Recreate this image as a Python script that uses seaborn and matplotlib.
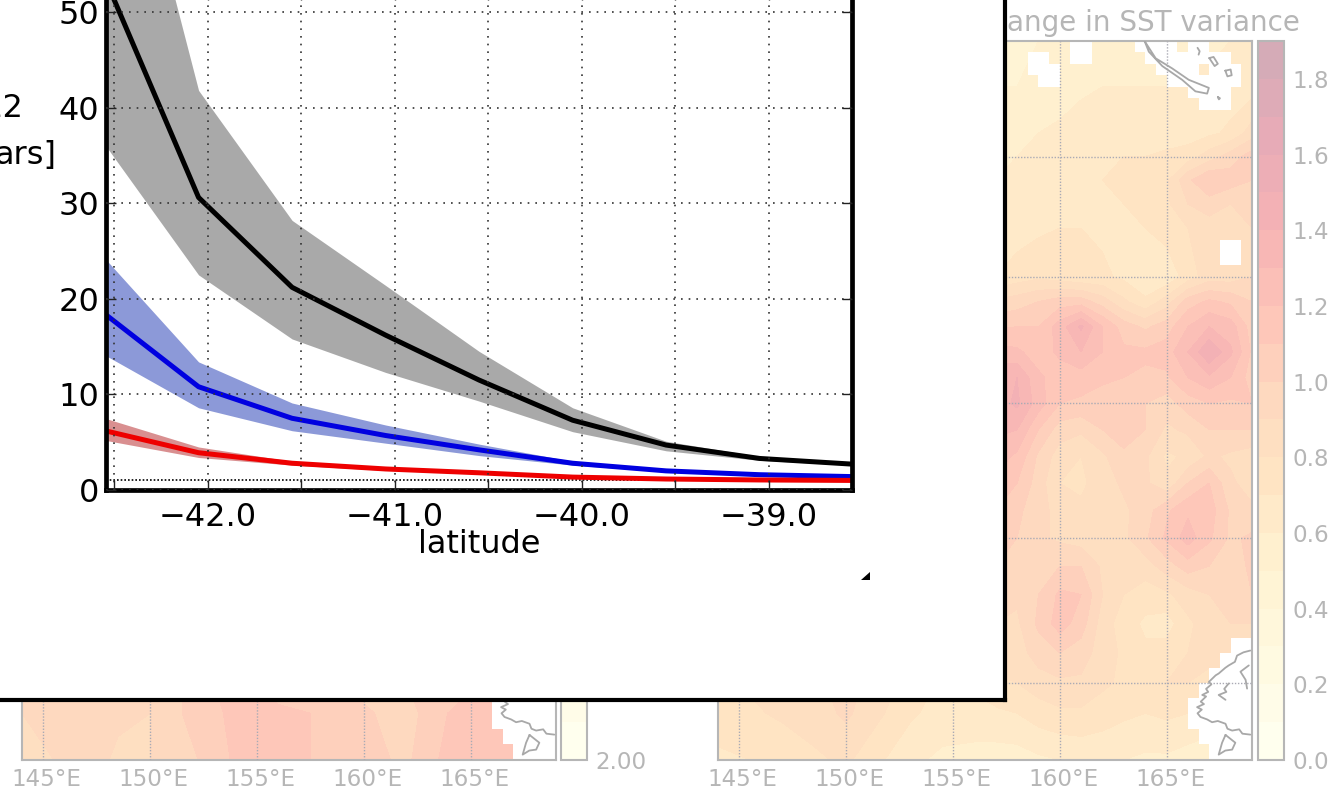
import numpy as np
import pandas as pd
import seaborn as sns
import matplotlib.pyplot as plt
from matplotlib.transforms import ScaledTranslation

W, H = 1342, 791

# inset curves
lat_knots = [-42.55, -42.05, -41.55, -41.05, -40.55, -40.05, -39.55, -39.05, -38.55]
black_mean = [53.5, 30.6, 21.2, 16.2, 11.5, 7.3, 4.7, 3.3, 2.7]
black_low = [36.1, 22.5, 15.8, 12.3, 9.3, 6.1, 4.1, 3.1, 2.6]
black_high = [79.6, 41.8, 28.2, 21.4, 14.5, 8.6, 5.1, 3.5, 2.8]
blue_mean = [18.4, 10.8, 7.5, 5.7, 4.2, 2.8, 2.0, 1.6, 1.4]
blue_low = [14.1, 8.6, 6.2, 4.9, 3.6, 2.6, 1.9, 1.5, 1.3]
blue_high = [24.2, 13.4, 9.1, 6.8, 4.8, 3.0, 2.1, 1.7, 1.5]
red_mean = [6.2, 3.9, 2.8, 2.2, 1.8, 1.35, 1.15, 1.05, 1.0]
red_low = [5.2, 3.4, 2.6, 2.05, 1.7, 1.3, 1.1, 1.0, 0.9]
red_high = [7.5, 4.5, 3.0, 2.3, 1.9, 1.4, 1.2, 1.1, 1.05]

# right map, visible part
field_lons = [157, 158, 159, 160, 161, 162, 163, 164, 165, 166, 167, 168, 169]
field_lats = [-20, -22, -24, -25, -26, -27, -28, -30, -31, -32, -33, -34, -35, -36, -37, -38,
              -39, -40, -41, -42, -43, -44, -45, -46, -47.5]
field = [
    [.45, .45, .50, .52, .55, .60, .58, .55, .58, .58, .58, .60, .60],
    [.50, .50, .52, .55, .58, .60, .60, .60, .60, .62, .62, .65, .65],
    [.55, .58, .60, .62, .65, .68, .68, .65, .65, .65, .68, .72, .85],
    [.58, .60, .62, .65, .68, .70, .70, .70, .72, .75, .85, .95, 1.05],
    [.60, .62, .65, .68, .70, .70, .72, .72, .78, .98, 1.1, 1.05, 1.0],
    [.62, .65, .68, .70, .70, .70, .70, .72, .78, .90, .95, .90, .95],
    [.60, .65, .68, .70, .70, .68, .68, .70, .75, .80, .85, .85, .90],
    [.70, .75, .78, .75, .72, .72, .68, .62, .62, .75, .85, .85, .90],
    [.92, .95, 1.0, 1.05, 1.05, .95, .82, .72, .85, 1.05, 1.12, 1.08, 1.0],
    [1.08, 1.1, 1.1, 1.25, 1.42, 1.2, 1.05, .98, 1.05, 1.2, 1.3, 1.25, 1.05],
    [1.25, 1.22, 1.15, 1.22, 1.3, 1.2, 1.12, 1.12, 1.15, 1.3, 1.5, 1.32, 1.08],
    [1.35, 1.4, 1.22, 1.15, 1.15, 1.12, 1.1, 1.08, 1.08, 1.2, 1.28, 1.2, 1.05],
    [1.35, 1.42, 1.25, 1.1, 1.08, 1.05, 1.02, 1.0, .95, 1.05, 1.1, 1.08, 1.1],
    [1.32, 1.3, 1.1, .95, .92, 1.0, 1.05, 1.0, .88, .92, 1.0, 1.0, 1.0],
    [1.25, 1.18, .98, .85, .80, .88, .98, .92, .78, .82, .92, .88, .85],
    [1.18, 1.1, .95, .80, .78, .85, .92, .92, .82, 1.0, 1.1, .92, .85],
    [1.1, 1.02, .95, .85, .82, .85, .88, .95, 1.08, 1.18, 1.15, .98, .92],
    [1.05, 1.0, .92, .88, .85, .85, .88, .98, 1.12, 1.25, 1.12, .98, 1.02],
    [1.0, .95, .95, 1.0, 1.0, .88, .85, .85, .95, 1.05, 1.0, .95, 1.02],
    [.98, .92, 1.0, 1.12, 1.1, .90, .80, .75, .78, .85, .90, .95, 1.0],
    [.90, .88, 1.02, 1.15, 1.05, .85, .75, .68, .65, .78, .85, .90, .90],
    [.85, .85, .95, 1.0, .95, .85, .78, .72, .75, .80, .82, .85, .85],
    [.78, .80, .85, .88, .88, .82, .78, .75, .80, .80, .78, .78, .80],
    [.68, .70, .75, .78, .78, .75, .72, .70, .72, .70, .68, .68, .70],
    [.55, .55, .58, .60, .62, .62, .60, .58, .58, .55, .52, .52, .55],
]

# bottom strips of both maps
right_lats = [-44, -46, -47.5]
right_lons = [144, 145.5, 147, 148.5, 150, 151.5, 153, 154.5, 156, 157]
right_strip = [
    [.82, .85, .88, .90, .95, .88, .80, .72, .75, .85],
    [.75, .78, .82, .85, .92, .82, .72, .65, .68, .68],
    [.68, .70, .72, .78, .82, .72, .62, .58, .55, .55],
]
left_lats = [-44, -45, -46, -47.5]
left_lons = [144, 145.5, 147, 148.5, 150, 151.5, 153, 154.5, 156, 157.5, 159, 160.5, 162, 163.5,
             165, 166.5, 169]
left_strip = [
    [2.95, 2.98, 2.95, 2.95, 3.0, 2.98, 3.05, 3.1, 3.05, 3.0, 3.0, 2.98, 2.98, 3.02, 3.05, 3.05, 3.05],
    [2.92, 2.95, 2.95, 2.92, 2.95, 3.0, 3.1, 3.12, 3.05, 3.05, 3.0, 2.95, 3.0, 3.02, 3.08, 3.1, 3.1],
    [2.9, 2.92, 3.0, 2.92, 2.9, 3.0, 3.08, 3.15, 3.12, 3.1, 3.02, 3.0, 2.95, 3.08, 3.15, 3.15, 3.15],
    [2.88, 2.9, 2.95, 2.88, 2.9, 2.95, 3.05, 3.15, 3.18, 3.1, 3.0, 3.02, 2.98, 3.1, 3.18, 3.18, 3.18],
]

# land cells left white: top lat, bottom lat, west lon, east lon
land_top = [-20.5, -21, -20, -20, -20, -20.5, -21, -21, -21.5, -22, -22.5, -28.5,
            -43.5, -44, -44.5, -45, -45.5, -46.5, -47]
land_bot = [-21.5, -22, -21, -20.5, -20.5, -21, -21.5, -21.5, -22, -22.5, -23, -29.5,
            -44, -44.5, -45, -45.5, -46.5, -47, -47.5]
land_w = [158.5, 159, 160.5, 163.5, 166, 164, 164.5, 167, 165, 166, 166.5, 167.5,
          168, 167.5, 167, 166.5, 166, 166.5, 167]
land_e = [159.5, 160, 161.5, 165.5, 167, 168, 166.5, 168.5, 168.5, 168, 168, 168.5,
          169, 169, 169, 169, 169, 169, 169]

# coastlines (lon, lat)
coast_lines = [
    ([163.97, 164.49, 165.26, 166.04, 166.98, 166.9, 166.35, 165.73, 164.8, 164.17, 163.97],
     [-20.0, -20.76, -21.2, -21.7, -22.05, -22.3, -22.2, -21.7, -21.1, -20.47, -20.0]),
    ([166.45, 166.55, 166.5], [-20.3, -20.45, -20.6]),
    ([167.0, 167.2, 167.4, 167.25, 167.0], [-20.75, -20.7, -21.0, -21.1, -20.75]),
    ([167.75, 168.0, 168.05, 167.85, 167.75], [-21.3, -21.25, -21.5, -21.55, -21.3]),
    ([167.4, 167.5, 167.45, 167.4], [-22.45, -22.5, -22.55, -22.45]),
    ([168.92, 168.6, 168.3, 168.2, 167.91, 167.75, 167.44, 167.3, 166.98, 167.1, 166.85, 166.95,
      166.67, 166.85, 166.6, 166.75, 166.43, 166.65, 166.45, 166.59, 166.9, 167.13, 167.4, 167.76,
      167.85, 168.07, 168.4, 168.55, 168.92],
     [-43.92, -43.98, -44.09, -44.3, -44.42, -44.5, -44.69, -44.75, -44.97, -45.05, -45.2, -45.3,
      -45.4, -45.45, -45.62, -45.7, -45.8, -45.88, -46.0, -46.12, -46.2, -46.29, -46.25, -46.34,
      -46.5, -46.56, -46.52, -46.66, -46.69]),
    ([167.76, 168.22, 168.07, 167.75, 167.44, 167.6, 167.76],
     [-46.7, -46.95, -47.17, -47.2, -47.33, -46.95, -46.7]),
    ([168.85, 168.46, 168.7, 168.77], [-44.42, -44.63, -44.9, -45.19]),
    ([167.91, 167.7, 167.8, 167.44, 167.76], [-45.02, -45.2, -45.3, -45.4, -45.56]),
]

grid_lons = [145, 150, 155, 160, 165]
grid_lats = [-25, -30, -35, -40, -45]
lon_labels = ['145°E', '150°E', '155°E', '160°E', '165°E']
bar_ticks = [0.0, 0.2, 0.4, 0.6, 0.8, 1.0, 1.2, 1.4, 1.6, 1.8]

GREY = '#b6b6b6'
sns.set_theme(style='ticks')
plt.rcParams['font.family'] = ['DejaVu Sans']


def px_axes(x0, y0, x1, y1, **kw):
    # pixel box, y measured from the top of the picture
    return fig.add_axes([x0 / W, 1 - y1 / H, (x1 - x0) / W, (y1 - y0) / H], **kw)


def merc(lat):
    return np.arcsinh(np.tan(np.radians(lat)))


def inv_merc(y):
    return np.degrees(np.arctan(np.sinh(y)))


# pale YlOrRd, blended with white so bands do not show seams
base = sns.color_palette('YlOrRd', as_cmap=True)(np.linspace(0, 1, 19))[:, :3]
pale = [tuple(c) for c in base * 0.33 + 0.67]


def draw_map(ax, cax, pieces, levels, ticks, fmt):
    for lons, lats, vals in pieces:
        cf = ax.contourf(lons, lats, vals, levels=levels, colors=pale)
    for top, bot, w, e in zip(land_top, land_bot, land_w, land_e):
        ax.fill_between([w, e], top, bot, color='white', lw=0, zorder=2)
    for xs, ys in coast_lines:
        ax.plot(xs, ys, color='#a8a8a8', lw=1.3, zorder=3)
    ax.set_yscale('function', functions=(merc, inv_merc))
    ax.set_xlim(144, 169)
    ax.set_ylim(-47.5, -20)
    ax.set_xticks(grid_lons, lon_labels)
    ax.set_yticks(grid_lats)
    ax.minorticks_off()
    ax.grid(True, color='#aaaab4', lw=1, linestyle=(0, (1, 1.2)), zorder=4)
    ax.set_axisbelow(False)
    ax.tick_params(axis='x', length=0, labelsize=16.6, labelcolor=GREY, pad=6)
    ax.tick_params(axis='y', length=0, labelleft=False)
    # labels sit a little right of their grid lines in the original
    shift = ScaledTranslation(3.5 / 100, 0, fig.dpi_scale_trans)
    for lbl in ax.get_xticklabels():
        lbl.set_transform(lbl.get_transform() + shift)
    for s in ax.spines.values():
        s.set_color(GREY)
        s.set_linewidth(1.5)
    cb = fig.colorbar(cf, cax=cax, ticks=ticks, format=fmt, drawedges=False)
    cb.outline.set_edgecolor(GREY)
    cb.outline.set_linewidth(1.5)
    cax.tick_params(direction='in', length=5, color=GREY, labelcolor=GREY, labelsize=16.6, pad=6)


fig = plt.figure(figsize=(W / 100, H / 100), dpi=100, facecolor='white')

# the two faded maps in the background
left_map = px_axes(22, 41, 556, 760)
left_bar = px_axes(561, 41, 587, 760)
draw_map(left_map, left_bar, [(left_lons, left_lats, left_strip)],
         np.linspace(2.0, 3.9, 20), [2.0], '%.2f')

right_map = px_axes(718, 41, 1252, 760)
right_bar = px_axes(1258, 41, 1284, 760)
draw_map(right_map, right_bar,
         [(field_lons, field_lats, field), (right_lons, right_lats, right_strip)],
         np.linspace(0.0, 1.9, 20), bar_ticks, '%.1f')
fig.text(1007 / W, 1 - 23 / H, 'ange in SST variance', color=GREY, fontsize=20,
         ha='left', va='center')

# white box with the curves on top of the maps, box coordinates are pixels
box = px_axes(-10, -10, 1005, 700, facecolor='white', zorder=5)
box.set_xlim(-10, 1005)
box.set_ylim(700, -10)
box.set_xticks([])
box.set_yticks([])
for s in box.spines.values():
    s.set_color('black')
    s.set_linewidth(3)
box.fill([861, 870, 870], [580, 572, 580], color='black', lw=0)
box.text(24, 108, '22', fontsize=23, color='black', ha='right', va='center')
box.text(56, 155, 'ars]', fontsize=23, color='black', ha='right', va='center')

ax = px_axes(106, -10, 852, 490, facecolor='none', zorder=6)
curves = pd.DataFrame({'lat': lat_knots, 'black': black_mean, 'blue': blue_mean, 'red': red_mean})

ax.fill_between(lat_knots, black_low, black_high, color='#a9a9a9', lw=0)
ax.fill_between(lat_knots, blue_low, blue_high, color='#8c99d8', lw=0)
ax.fill_between(lat_knots, red_low, red_high, color='#d98f90', lw=0)
ax.axhline(1, color='black', lw=1.2, linestyle=(0, (1, 1.2)), zorder=1.5)
sns.lineplot(data=curves, x='lat', y='black', color='black', lw=3.6, ax=ax, errorbar=None)
sns.lineplot(data=curves, x='lat', y='blue', color='#0000e0', lw=3.6, ax=ax, errorbar=None)
sns.lineplot(data=curves, x='lat', y='red', color='#ee0000', lw=3.6, ax=ax, errorbar=None)

ax.set_xlim(-42.545, -38.556)
ax.set_ylim(0, 52.3)
x_ticks = [-42.5, -42.0, -41.5, -41.0, -40.5, -40.0, -39.5, -39.0]
x_labels = ['', '\u221242.0', '', '\u221241.0', '', '\u221240.0', '', '\u221239.0']
ax.set_xticks(x_ticks, x_labels)
ax.set_yticks([0, 10, 20, 30, 40, 50])
ax.grid(True, color='#333333', lw=1.2, linestyle=(0, (1, 3.6)))
ax.set_axisbelow(False)
ax.tick_params(direction='in', length=7, width=1, color='#222222', top=True, right=True,
               labelsize=23, labelcolor='black')
ax.tick_params(axis='x', pad=9)
ax.tick_params(axis='y', pad=5)
ax.set_xlabel('latitude', fontsize=23, color='black', labelpad=-3)
ax.set_ylabel('')
for s in ax.spines.values():
    s.set_color('black')
    s.set_linewidth(3.4)

fig.savefig('out.png', dpi=100)
